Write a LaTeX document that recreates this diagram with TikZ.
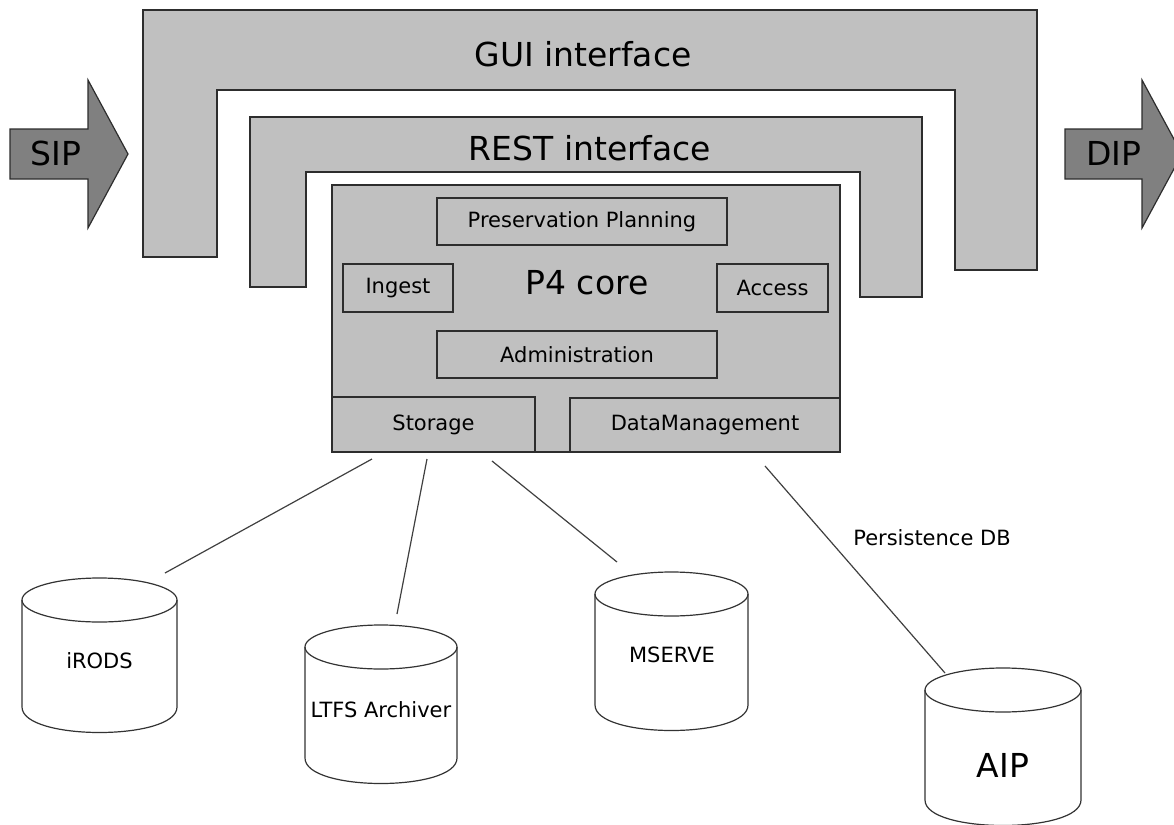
\documentclass[tikz,border=0pt]{standalone}
\usepackage{fontspec}
\setmainfont{DejaVu Sans}
\usepackage{xcolor}
\definecolor{panelgray}{RGB}{192,192,192}
\definecolor{arrowgray}{RGB}{128,128,128}
\definecolor{edgegray}{RGB}{45,45,45}

\tikzset{
	shell/.style={draw=edgegray, fill=panelgray, line width=0.8pt},
	modbox/.style={draw=edgegray, line width=0.7pt, inner sep=0pt, font=\fontsize{10.5}{12}\selectfont},
	flowarrow/.style={draw=edgegray, fill=arrowgray, line width=0.6pt},
	dbline/.style={draw=black!80, line width=0.6pt},
	wire/.style={draw=black!75, line width=0.6pt},
	headline/.style={font=\fontsize{16.5}{20}\selectfont},
	smalltext/.style={font=\fontsize{10.5}{12}\selectfont}
}

\begin{document}
\begin{tikzpicture}[x=0.5pt, y=-0.5pt]
	\useasboundingbox (0,0) rectangle (1174,825);

	%outer GUI layer
	\draw[shell] (143,10) -- (1037,10) -- (1037,270) -- (955,270) -- (955,90) -- (217,90) -- (217,257) -- (143,257) -- cycle;
	%REST layer
	\draw[shell] (250,117) -- (922,117) -- (922,297) -- (860,297) -- (860,172) -- (306,172) -- (306,287) -- (250,287) -- cycle;
	%core panel
	\draw[shell] (332,185) rectangle (840,452);
	%
	% Text nodes
	\node[headline] (gui) at (583,54) {GUI interface};
	\node[headline] (rest) at (590,148) {REST interface};
	\node[headline] (core) at (587,283) {P4 core};
	%
	% modules of the core
	\node[modbox, minimum width=145pt, minimum height=23.5pt] (plan) at (582,221.5) {Preservation Planning};
	\node[modbox, minimum width=55pt, minimum height=24pt] (ingest) at (398,288) {Ingest};
	\node[modbox, minimum width=55.5pt, minimum height=24pt] (access) at (772.5,288) {Access};
	\node[modbox, minimum width=140pt, minimum height=23.5pt] (admin) at (577,354.5) {Administration};
	\node[modbox, minimum width=101.5pt, minimum height=27.5pt] (storage) at (433.5,424.5) {Storage};
	\node[modbox, minimum width=135pt, minimum height=27pt] (datamgmt) at (705,425) {DataManagement};
	%
	% SIP / DIP arrows
	\draw[flowarrow] (10,129) -- (88,129) -- (88,80) -- (128,154) -- (88,228) -- (88,179) -- (10,179) -- cycle;
	\draw[flowarrow] (1065,129) -- (1142,129) -- (1142,80) -- (1182,154) -- (1142,228) -- (1142,179) -- (1065,179) -- cycle;
	\node[headline] (sip) at (56,153) {SIP};
	\node[headline] (dip) at (1114,153) {DIP};
	%
	% storage back ends (cylinders)
	\draw[dbline] (22,600) -- (22,707) .. controls (22,741) and (177,741) .. (177,707) -- (177,600);
	\draw[dbline] (99.5,600) ellipse (77.5 and 22);
	\draw[dbline] (305,647) -- (305,758) .. controls (305,792) and (457,792) .. (457,758) -- (457,647);
	\draw[dbline] (381,647) ellipse (76 and 22);
	\draw[dbline] (595,594) -- (595,705) .. controls (595,739) and (748,739) .. (748,705) -- (748,594);
	\draw[dbline] (671.5,594) ellipse (76.5 and 22);
	\draw[dbline] (925,690) -- (925,800) .. controls (925,834) and (1081,834) .. (1081,800) -- (1081,690);
	\draw[dbline] (1003,690) ellipse (78 and 22);
	\node[smalltext] (irods) at (99.5,661) {iRODS};
	\node[smalltext] (ltfs) at (381,710) {LTFS Archiver};
	\node[smalltext] (mserve) at (672,655) {MSERVE};
	\node[headline] (aip) at (1003,765) {AIP};
	\node[smalltext] (persist) at (932,538) {Persistence DB};
	%
	% connector ends
	\coordinate (s1) at (372,459);
	\coordinate (s2) at (427,459);
	\coordinate (s3) at (492,461);
	\coordinate (d1) at (765,466);
	\coordinate (irodstop) at (165,573);
	\coordinate (ltfstop) at (397,614);
	\coordinate (mservetop) at (617,562);
	\coordinate (aiptop) at (945,673);
	%
	% Connectors
	\draw[wire] (s1) -- (irodstop); % iRODS
	\draw[wire] (s2) -- (ltfstop); % LTFS
	\draw[wire] (s3) -- (mservetop); % MSERVE
	\draw[wire] (d1) -- (aiptop); % AIP
\end{tikzpicture}
\end{document}
